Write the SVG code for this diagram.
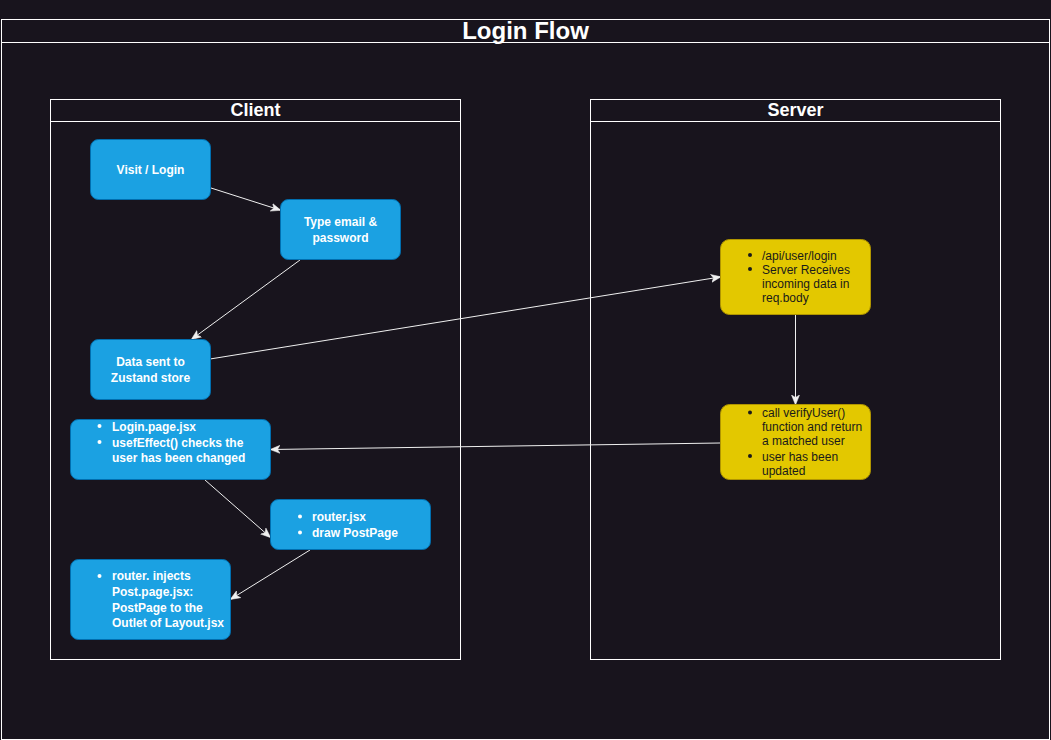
<svg xmlns="http://www.w3.org/2000/svg" width="1051" height="740" viewBox="0 0 1051 740">
<defs>
<marker id="arr" viewBox="0 0 10 10" refX="9" refY="5" markerWidth="10" markerHeight="10" markerUnits="userSpaceOnUse" orient="auto">
<path d="M0,1 L10,5 L0,9 L2.5,5 Z" fill="#f0f0f0" stroke="#f0f0f0" stroke-width="0.5"/>
</marker>
</defs>
<style>
text{font-family:"Liberation Sans",Arial,sans-serif}
.frame{fill:none;stroke:#ffffff;stroke-width:1}
.hdr{fill:#ffffff;font-weight:bold;text-anchor:middle}
.blue{fill:#1BA1E2;stroke:#006EAF;stroke-width:1}
.yel{fill:#E3C800;stroke:#B09500;stroke-width:1}
.bt{fill:#ffffff;font-size:12px;font-weight:bold}
.yt{fill:#1a1a1a;font-size:12px}
.c{text-anchor:middle}
.edge{fill:none;stroke:#f0f0f0;stroke-width:1;marker-end:url(#arr)}
</style>
<rect x="0" y="0" width="1051" height="740" fill="#18141D"/>
<g id="frame">
<rect class="frame" x="1.5" y="19.5" width="1048" height="720"/>
<line class="frame" x1="1.5" y1="42.5" x2="1049.5" y2="42.5"/>
<text class="hdr" x="525.5" y="39" font-size="24">Login Flow</text>
</g>
<g id="client">
<rect class="frame" x="50.5" y="99.5" width="410" height="560"/>
<line class="frame" x1="50.5" y1="121.5" x2="460.5" y2="121.5"/>
<text class="hdr" x="255.5" y="116" font-size="18">Client</text>
</g>
<g id="server">
<rect class="frame" x="590.5" y="99.5" width="410" height="560"/>
<line class="frame" x1="590.5" y1="121.5" x2="1000.5" y2="121.5"/>
<text class="hdr" x="795.5" y="116" font-size="18">Server</text>
</g>
<g id="connectors">
<line class="edge" x1="211" y1="188" x2="280" y2="210"/>
<line class="edge" x1="300" y1="260" x2="192" y2="339"/>
<line class="edge" x1="210" y1="359" x2="720" y2="277"/>
<line class="edge" x1="795.5" y1="314" x2="795.5" y2="404"/>
<line class="edge" x1="720" y1="443" x2="271" y2="449.5"/>
<line class="edge" x1="205" y1="480" x2="270" y2="537"/>
<line class="edge" x1="310" y1="550" x2="231" y2="599"/>
</g>
<g id="visit">
<rect class="blue" x="90.5" y="139.5" width="120" height="60" rx="8"/>
<text class="bt c" x="150.5" y="173.5">Visit / Login</text>
</g>
<g id="type">
<rect class="blue" x="280.5" y="199.5" width="120" height="60" rx="8"/>
<text class="bt c" x="340.5" y="226">Type email &amp;</text>
<text class="bt c" x="340.5" y="242">password</text>
</g>
<g id="data">
<rect class="blue" x="90.5" y="339.5" width="120" height="60" rx="8"/>
<text class="bt c" x="150.5" y="366">Data sent to</text>
<text class="bt c" x="150.5" y="382">Zustand store</text>
</g>
<g id="loginpage">
<rect class="blue" x="70.5" y="419.5" width="200" height="60" rx="8"/>
<circle cx="99.5" cy="426" r="2" fill="#ffffff"/>
<circle cx="99.5" cy="442" r="2" fill="#ffffff"/>
<text class="bt" x="112" y="430.5">Login.page.jsx</text>
<text class="bt" x="112" y="446.5">usefEffect() checks the</text>
<text class="bt" x="112" y="462">user has been changed</text>
</g>
<g id="router">
<rect class="blue" x="270.5" y="499.5" width="160" height="50" rx="8"/>
<circle cx="300" cy="516.5" r="2" fill="#ffffff"/>
<circle cx="300" cy="532.5" r="2" fill="#ffffff"/>
<text class="bt" x="312" y="521">router.jsx</text>
<text class="bt" x="312" y="537">draw PostPage</text>
</g>
<g id="injects">
<rect class="blue" x="70.5" y="559.5" width="160" height="80" rx="8"/>
<circle cx="99.5" cy="576" r="2" fill="#ffffff"/>
<text class="bt" x="112" y="580">router. injects</text>
<text class="bt" x="112" y="596">Post.page.jsx:</text>
<text class="bt" x="112" y="611.5">PostPage to the</text>
<text class="bt" x="112" y="627">Outlet of Layout.jsx</text>
</g>
<g id="apilogin">
<rect class="yel" x="720.5" y="239.5" width="150" height="75" rx="9"/>
<circle cx="750" cy="255" r="2" fill="#1a1a1a"/>
<circle cx="750" cy="269" r="2" fill="#1a1a1a"/>
<text class="yt" x="762" y="259.5">/api/user/login</text>
<text class="yt" x="762" y="273.5">Server Receives</text>
<text class="yt" x="762" y="287.5">incoming data in</text>
<text class="yt" x="762" y="302">req.body</text>
</g>
<g id="verify">
<rect class="yel" x="720.5" y="404.5" width="150" height="75" rx="9"/>
<circle cx="750" cy="412.5" r="2" fill="#1a1a1a"/>
<circle cx="750" cy="456" r="2" fill="#1a1a1a"/>
<text class="yt" x="762" y="417">call verifyUser()</text>
<text class="yt" x="762" y="431">function and return</text>
<text class="yt" x="762" y="445">a matched user</text>
<text class="yt" x="762" y="460.5">user has been</text>
<text class="yt" x="762" y="474.5">updated</text>
</g>
</svg>
